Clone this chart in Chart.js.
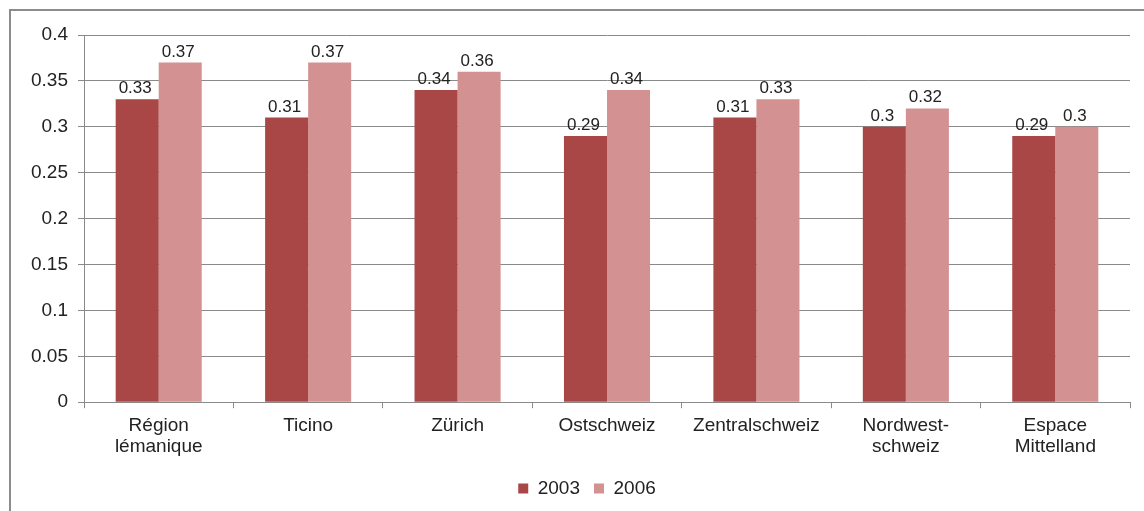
<!DOCTYPE html>
<html>
<head>
<meta charset="utf-8">
<script src="https://cdn.jsdelivr.net/npm/chart.js@4"></script>
<style>
  html, body { margin: 0; padding: 0; background: #fff; }
  body { width: 1144px; height: 511px; position: relative; overflow: hidden; }
  .frame {
    position: absolute; left: 9px; top: 9px; width: 1200px; height: 600px;
    border-left: 2px solid #8c8c8c; border-top: 2px solid #8c8c8c;
  }
  .wrap { position: absolute; left: 0; top: 0; width: 1144px; height: 511px; }
</style>
</head>
<body>
<div class="frame"></div>
<div class="wrap"><canvas id="chartRegionen"></canvas></div>
<script>
const regionen = [
  ['Région', 'lémanique'],
  'Ticino',
  'Zürich',
  'Ostschweiz',
  'Zentralschweiz',
  ['Nordwest-', 'schweiz'],
  ['Espace', 'Mittelland']
];
const werte2003 = [0.33, 0.31, 0.34, 0.29, 0.31, 0.30, 0.29];
const werte2006 = [0.37, 0.37, 0.36, 0.34, 0.33, 0.32, 0.30];
const yTicks = [0, 0.05, 0.1, 0.15, 0.2, 0.25, 0.3, 0.35, 0.4];

const familie = 'Liberation Sans, Arial, sans-serif';
const achsenSchrift = { family: familie, size: 19, lineHeight: 1.1 };
const wertSchrift = { family: familie, size: 17 };
const textFarbe = '#222';
const gitter = '#8a8a8a';

// value labels on top of each bar
const wertLabels = {
  id: 'wertLabels',
  afterDatasetsDraw(chart) {
    const ctx = chart.ctx;
    ctx.save();
    ctx.font = `${wertSchrift.size}px ${wertSchrift.family}`;
    ctx.fillStyle = textFarbe;
    ctx.textAlign = 'center';
    ctx.textBaseline = 'alphabetic';
    chart.data.datasets.forEach((ds, i) => {
      chart.getDatasetMeta(i).data.forEach((bar, j) => {
        ctx.fillText(String(ds.data[j]), bar.x - 2, bar.y - 6);
      });
    });
    ctx.restore();
  }
};

// legend sits centred under the plot area, not the whole canvas
const legendeVersatz = {
  id: 'legendeVersatz',
  afterLayout(chart) {
    if (chart.legend) {
      chart.legend.left += 22;
      chart.legend.right += 22;
    }
  }
};

document.addEventListener('DOMContentLoaded', () => {
  const ctx = document.getElementById('chartRegionen').getContext('2d');

  new Chart(ctx, {
    type: 'bar',
    data: {
      labels: regionen,
      datasets: [
        { label: '2003', data: werte2003, backgroundColor: '#a94646' },
        { label: '2006', data: werte2006, backgroundColor: '#d39191' }
      ]
    },
    options: {
      responsive: true,
      maintainAspectRatio: false,
      animation: false,
      categoryPercentage: 0.576,
      barPercentage: 1.0,
      layout: { padding: { top: 35, right: 14, left: 0, bottom: 3 } },
      scales: {
        y: {
          min: 0,
          max: 0.4,
          afterFit: (scale) => { scale.width = 84; },
          afterBuildTicks: (scale) => { scale.ticks = yTicks.map(v => ({ value: v })); },
          grid: { color: gitter, tickLength: 6, drawTicks: true },
          border: { color: gitter },
          ticks: {
            color: textFarbe,
            font: achsenSchrift,
            padding: 10,
            callback: (v) => String(v)
          }
        },
        x: {
          afterFit: (scale) => { scale.height += 1; },
          grid: { drawOnChartArea: false, color: gitter, tickLength: 6, offset: true },
          border: { color: gitter },
          ticks: { color: textFarbe, font: achsenSchrift, padding: 7, maxRotation: 0 }
        }
      },
      plugins: {
        legend: {
          position: 'bottom',
          labels: {
            color: textFarbe,
            font: { family: familie, size: 19 },
            boxWidth: 10,
            boxHeight: 10,
            padding: 14
          }
        },
        tooltip: { enabled: false }
      }
    },
    plugins: [wertLabels, legendeVersatz]
  });
});
</script>
</body>
</html>
